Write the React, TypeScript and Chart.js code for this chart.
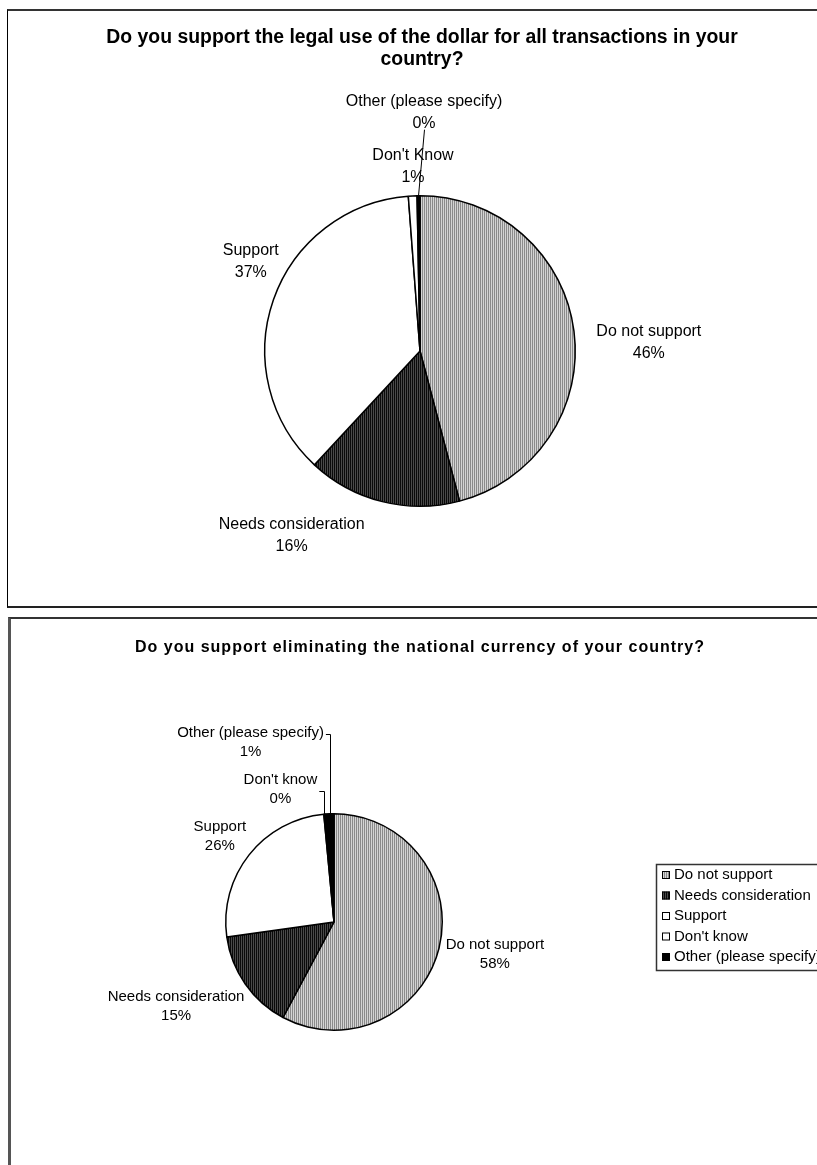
import { useEffect, useRef } from "react";
import { Chart, registerables } from "chart.js";

Chart.register(...registerables);

// Answers run clockwise from 12 o'clock in this order.
const dollarAnswers = ["Do not support", "Needs consideration", "Support", "Don't Know", "Other (please specify)"];
const dollarShares = [45.9, 16.0, 36.9, 0.9, 0.3];

const currencyAnswers = ["Do not support", "Needs consideration", "Support", "Don't know", "Other (please specify)"];
const currencyShares = [57.8, 15.0, 25.7, 0.2, 1.3];

const legendAnswers = ["Do not support", "Needs consideration", "Support", "Don't know", "Other (please specify)"];

const dollarTitle = ["Do you support the legal use of the dollar for all transactions in your", "country?"];
const currencyTitle = ["Do you support eliminating the national currency of your country?"];

const PAGE_W = 817;
const PAGE_H = 1165;

type Spot = {
  dx: number; // label centre, in pie radii from the pie centre
  dy: number;
  leader?: "straight" | "elbow";
  elbowDy?: number;
  gap?: number;
};

interface PanelSpec {
  canvasTop: number;
  canvasHeight: number;
  answers: string[];
  shares: number[];
  title: string[];
  titleFont: string;
  titleSpacing: string;
  titleX: number;
  titleY: number;
  titleLineGap: number;
  cx: number;
  cy: number;
  r: number;
  labelFont: string;
  labelLineGap: number;
  spots: Spot[];
  legend?: { x: number; y: number; rowGap: number; firstRow: number; font: string; boxH: number; boxW: number };
}

// Striped greys standing in for the printed hatch fills.
function stripes(dark: string, light: string): CanvasPattern | string {
  const tile = document.createElement("canvas");
  tile.width = 2;
  tile.height = 2;
  const t = tile.getContext("2d");
  if (!t) return dark;
  t.fillStyle = light;
  t.fillRect(0, 0, 2, 2);
  t.fillStyle = dark;
  t.fillRect(0, 0, 1, 2);
  const p = t.createPattern(tile, "repeat");
  return p || dark;
}

function sliceFills() {
  return [stripes("#8a8a8a", "#d4d4d4"), stripes("#0a0a0a", "#4a4a4a"), "#ffffff", "#ffffff", "#000000"];
}

const dollarPanel: PanelSpec = {
  canvasTop: 0,
  canvasHeight: 612,
  answers: dollarAnswers,
  shares: dollarShares,
  title: dollarTitle,
  titleFont: "bold 19.4px 'Liberation Sans', Arial, sans-serif",
  titleSpacing: "0px",
  titleX: 422,
  titleY: 38,
  titleLineGap: 22,
  cx: 420,
  cy: 351,
  r: 156,
  labelFont: "16px 'Liberation Sans', Arial, sans-serif",
  labelLineGap: 22,
  spots: [
    { dx: 1.474, dy: -0.054 },
    { dx: -0.827, dy: 1.186 },
    { dx: -1.09, dy: -0.577 },
    { dx: -0.045, dy: -1.186 },
    { dx: 0.026, dy: -1.535, leader: "straight", gap: 6 },
  ],
};

const currencyPanel: PanelSpec = {
  canvasTop: 612,
  canvasHeight: PAGE_H - 612,
  answers: currencyAnswers,
  shares: currencyShares,
  title: currencyTitle,
  titleFont: "bold 16px 'Liberation Sans', Arial, sans-serif",
  titleSpacing: "1px",
  titleX: 420,
  titleY: 648,
  titleLineGap: 20,
  cx: 334,
  cy: 922,
  r: 109,
  labelFont: "15px 'Liberation Sans', Arial, sans-serif",
  labelLineGap: 19,
  spots: [
    { dx: 1.486, dy: 0.298 },
    { dx: -1.459, dy: 0.78 },
    { dx: -1.055, dy: -0.789 },
    { dx: -0.495, dy: -1.229, leader: "elbow", elbowDy: 2 },
    { dx: -0.771, dy: -1.661, leader: "elbow", elbowDy: -8 },
  ],
  legend: {
    x: 656,
    y: 864,
    rowGap: 20.5,
    firstRow: 11,
    font: "15px 'Liberation Sans', Arial, sans-serif",
    boxH: 106,
    boxW: 180,
  },
};

function makeTextPlugin(spec: PanelSpec) {
  return {
    id: "surveyText",
    afterDraw(chart: Chart) {
      const ctx = chart.ctx;
      const off = spec.canvasTop;
      ctx.save();
      ctx.fillStyle = "#000";
      ctx.strokeStyle = "#000";

      // Title
      ctx.font = spec.titleFont;
      (ctx as any).letterSpacing = spec.titleSpacing;
      ctx.textAlign = "center";
      ctx.textBaseline = "middle";
      spec.title.forEach((line, j) => {
        ctx.fillText(line, spec.titleX, spec.titleY - off + j * spec.titleLineGap);
      });
      (ctx as any).letterSpacing = "0px";

      // Data labels with their leader lines
      const meta = chart.getDatasetMeta(0);
      const values = chart.data.datasets[0].data as number[];
      const total = values.reduce((a, b) => a + b, 0);
      ctx.font = spec.labelFont;
      meta.data.forEach((el: any, i: number) => {
        const p = el.getProps(["x", "y", "startAngle", "endAngle", "outerRadius"], true);
        const R = p.outerRadius;
        const mid = (p.startAngle + p.endAngle) / 2;
        const ax = p.x + Math.cos(mid) * R;
        const ay = p.y + Math.sin(mid) * R;
        const s = spec.spots[i];
        const lx = p.x + s.dx * R;
        const ly = p.y + s.dy * R;
        const lines = [String(chart.data.labels?.[i] ?? ""), Math.round((values[i] / total) * 100) + "%"];
        const n = lines.length;
        lines.forEach((t, j) => {
          ctx.fillText(t, lx, ly + (j - (n - 1) / 2) * spec.labelLineGap);
        });
        ctx.lineWidth = 1;
        if (s.leader === "straight") {
          const y0 = ly + (n / 2) * spec.labelLineGap + (s.gap || 0) - spec.labelLineGap / 2;
          ctx.beginPath();
          ctx.moveTo(Math.round(lx) + 0.5, y0);
          ctx.lineTo(ax, ay);
          ctx.stroke();
        } else if (s.leader === "elbow") {
          const w = Math.max(...lines.map((t) => ctx.measureText(t).width));
          const x0 = lx + w / 2 + 2;
          const y0 = Math.round(ly + (s.elbowDy || 0)) + 0.5;
          const xv = Math.round(ax) + 0.5;
          ctx.beginPath();
          ctx.moveTo(x0, y0);
          ctx.lineTo(xv, y0);
          ctx.lineTo(xv, ay);
          ctx.stroke();
        }
      });

      // Legend
      const lg = spec.legend;
      if (lg) {
        const fills = chart.data.datasets[0].backgroundColor as any[];
        const top = lg.y - off;
        ctx.lineWidth = 1.5;
        ctx.strokeStyle = "#333";
        ctx.strokeRect(lg.x + 0.5, top + 0.5, lg.boxW, lg.boxH);
        ctx.font = lg.font;
        ctx.textAlign = "left";
        legendAnswers.forEach((name, i) => {
          const ry = top + lg.firstRow + i * lg.rowGap;
          ctx.fillStyle = fills[i];
          ctx.fillRect(lg.x + 6, ry - 4, 8, 8);
          ctx.lineWidth = 1;
          ctx.strokeStyle = "#000";
          ctx.strokeRect(lg.x + 6.5, ry - 3.5, 7, 7);
          ctx.fillStyle = "#000";
          ctx.fillText(name, lg.x + 18, ry);
        });
      }
      ctx.restore();
    },
  };
}

function SurveyPie({ spec }: { spec: PanelSpec }) {
  const ref = useRef<HTMLCanvasElement | null>(null);
  useEffect(() => {
    const canvas = ref.current;
    if (!canvas) return;
    const H = spec.canvasHeight;
    const cyc = spec.cy - spec.canvasTop;
    const chart = new Chart(canvas, {
      type: "pie",
      data: {
        labels: spec.answers,
        datasets: [
          {
            data: spec.shares,
            backgroundColor: sliceFills() as any,
            borderColor: "#000",
            borderWidth: 1.5,
          },
        ],
      },
      options: {
        responsive: false,
        animation: false,
        devicePixelRatio: 1,
        layout: {
          padding: {
            left: spec.cx - spec.r,
            right: PAGE_W - spec.cx - spec.r,
            top: cyc - spec.r,
            bottom: H - cyc - spec.r,
          },
        },
        plugins: {
          legend: { display: false },
          tooltip: { enabled: false },
          title: { display: false },
        },
      },
      plugins: [makeTextPlugin(spec)],
    });
    return () => chart.destroy();
  }, [spec]);
  return (
    <canvas
      ref={ref}
      width={PAGE_W}
      height={spec.canvasHeight}
      style={{ position: "absolute", left: 0, top: spec.canvasTop, width: PAGE_W, height: spec.canvasHeight }}
    />
  );
}

export default function App() {
  return (
    <div
      style={{
        position: "absolute",
        left: 0,
        top: 0,
        width: PAGE_W,
        height: PAGE_H,
        overflow: "hidden",
        background: "#fff",
      }}
    >
      <div
        style={{
          position: "absolute",
          left: 7,
          top: 9,
          width: 840,
          height: 599,
          boxSizing: "border-box",
          borderTop: "2px solid #333",
          borderLeft: "1px solid #000",
          borderBottom: "2px solid #222",
        }}
      />
      <div
        style={{
          position: "absolute",
          left: 8,
          top: 617,
          width: 840,
          height: 600,
          boxSizing: "border-box",
          borderTop: "2px solid #333",
          borderLeft: "3px solid #555",
        }}
      />
      <SurveyPie spec={dollarPanel} />
      <SurveyPie spec={currencyPanel} />
    </div>
  );
}
